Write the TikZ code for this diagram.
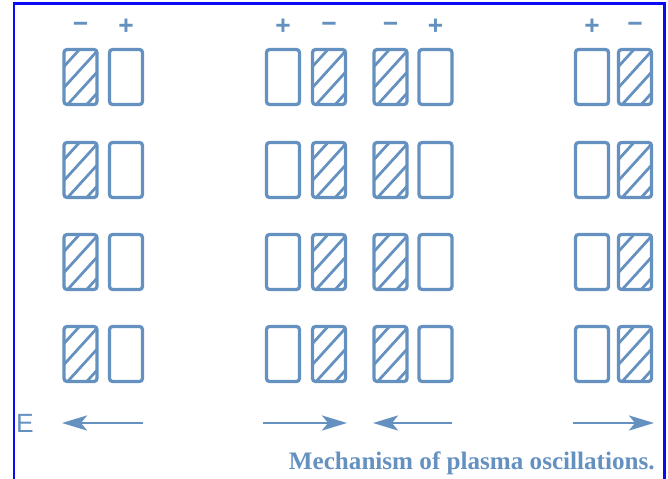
\documentclass[tikz,border=0pt]{standalone}
\usepackage{fontspec}
\setmainfont{Liberation Serif}
\setsansfont{Liberation Sans}
\usetikzlibrary{arrows.meta,positioning,calc}
\definecolor{plate}{RGB}{100,145,192}
\definecolor{frame}{RGB}{10,10,245}

\begin{document}
\begin{tikzpicture}[x=0.02cm,y=-0.02cm,
  slab/.style={draw=plate,line width=0.065cm,rounded corners=0.06cm,minimum width=0.66cm,minimum height=1.1cm,inner sep=0pt},
  eslab/.style={slab,path picture={
      \foreach \k in {-1,...,4}
        \draw[plate,line width=0.055cm]
          ($(path picture bounding box.south west)+(0,-\k*21+4)$) --
          ($(path picture bounding box.south west)+(40,-\k*21-40)$);}},
  islab/.style={slab},
  sgn/.style={text=plate,font=\sffamily\bfseries\fontsize{15}{15}\selectfont,inner sep=0pt},
  field/.style={draw=plate,line width=0.055cm,-{Stealth[length=0.5cm,width=0.3cm,inset=0.12cm]}}
]
\useasboundingbox (0,0) rectangle (668,479);
% screenshot frame
\draw[frame,line width=0.06cm] (14,479) -- (14,4) -- (664,4) -- (664,479);

% Charge signs
\node[sgn] (s1) at (80.5,27) {\char"2212};
\node[sgn] (s2) at (126,27)  {+};
\node[sgn] (s3) at (283,27)  {+};
\node[sgn] (s4) at (329,27)  {\char"2212};
\node[sgn] (s5) at (390.5,27){\char"2212};
\node[sgn] (s6) at (435.5,27){+};
\node[sgn] (s7) at (592,27)  {+};
\node[sgn] (s8) at (635,27)  {\char"2212};

% Electron and ion slabs
\foreach \r/\y in {1/77,2/170,3/262,4/354}{
  \node[eslab] (a\r) at (80.5,\y)  {};
  \node[islab] (b\r) at (126,\y)   {};
  \node[islab] (c\r) at (283,\y)   {};
  \node[eslab] (d\r) at (329,\y)   {};
  \node[eslab] (e\r) at (390.5,\y) {};
  \node[islab] (f\r) at (435.5,\y) {};
  \node[islab] (g\r) at (592,\y)   {};
  \node[eslab] (h\r) at (635,\y)   {};
}

% Field
\node[text=plate,font=\sffamily\fontsize{15}{15}\selectfont,inner sep=0pt] (E) at (25,423) {E};
\coordinate (p1) at (143,423); \coordinate (q1) at (62,423);
\coordinate (p2) at (263,423); \coordinate (q2) at (347,423);
\coordinate (p3) at (452,423); \coordinate (q3) at (373,423);
\coordinate (p4) at (573,423); \coordinate (q4) at (654,423);
\draw[field] (p1) -- (q1);
\draw[field] (p2) -- (q2);
\draw[field] (p3) -- (q3);
\draw[field] (p4) -- (q4);

\node[text=plate,font=\bfseries\fontsize{14.3}{14.3}\selectfont,anchor=east,inner sep=0pt] (cap) at (655,463) {Mechanism of plasma oscillations.};
\end{tikzpicture}
\end{document}
